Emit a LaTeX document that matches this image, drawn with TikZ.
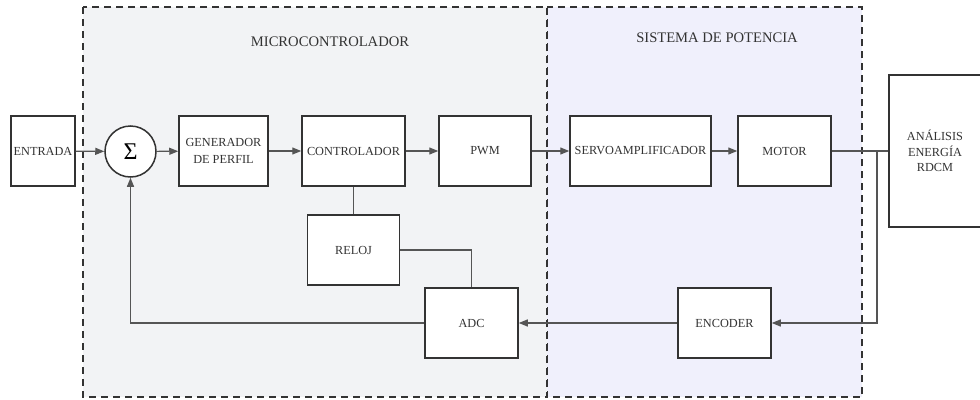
\documentclass[tikz,border=0pt]{standalone}
\usepackage{fontspec}
\setmainfont{Liberation Serif}
\usetikzlibrary{arrows.meta}
\definecolor{microfill}{HTML}{F2F3F5}
\definecolor{potfill}{HTML}{F0F0FC}
\definecolor{edgegray}{HTML}{333333}
\definecolor{linegray}{HTML}{555555}
\begin{document}
\begin{tikzpicture}[x=1pt,y=-1pt,
  bloque/.style={draw=edgegray, line width=1.5pt, fill=white, minimum width=#1,
    minimum height=70pt, inner sep=0pt, text=edgegray, align=center,
    font=\fontsize{12.3}{16.5}\selectfont},
  suma/.style={circle, draw=edgegray, line width=1.5pt, fill=white,
    minimum size=51pt, inner sep=0pt, text=black, font=\fontsize{24}{24}\selectfont},
  grupo/.style={draw=edgegray, line width=1.5pt, dash pattern=on 7pt off 5pt},
  titulo/.style={text=edgegray, font=\fontsize{14.6}{17}\selectfont},
  linea/.style={draw=linegray, line width=1.2pt},
  flecha/.style={linea, -{Triangle[length=9pt,width=7pt]}}]
\useasboundingbox (0,0) rectangle (980,399);

\draw[grupo, fill=potfill] (547,7) rectangle (862,397);
\draw[grupo, fill=microfill] (83,7) rectangle (547,397);
\node[titulo] (tmicro) at (330,42) {MICROCONTROLADOR};
\node[titulo] (tpot) at (717,38) {SISTEMA DE POTENCIA};

\node[bloque=64pt] (entrada) at (43,151) {ENTRADA};
\node[suma] (sum) at (130.5,151.5) {Σ};
\node[bloque=89pt] (perfil) at (223.5,151) {GENERADOR\\DE PERFIL};
\node[bloque=103pt] (control) at (353.5,151) {CONTROLADOR};
\node[bloque=92pt] (pwm) at (485,151) {PWM};
\node[bloque=141pt] (servo) at (640.5,151) {SERVOAMPLIFICADOR};
\node[bloque=93pt] (motor) at (784.5,151) {MOTOR};
\node[bloque=92pt, minimum height=152pt, font=\fontsize{12.3}{15.5}\selectfont]
  (analisis) at (935,151) {ANÁLISIS\\ENERGÍA\\RDCM};
\node[bloque=92pt] (reloj) at (353.5,250) {RELOJ};
\node[bloque=93pt] (adc) at (471.5,323) {ADC};
\node[bloque=93pt] (encoder) at (724.5,323) {ENCODER};
\coordinate (rama) at (877,151);

\draw[flecha] (entrada) -- (sum);
\draw[flecha] (sum) -- (perfil);
\draw[flecha] (perfil) -- (control);
\draw[flecha] (control) -- (pwm);
\draw[flecha] (pwm) -- (servo);
\draw[flecha] (servo) -- (motor);
\draw[linea] (motor) -- (analisis);
\draw[flecha] (rama) |- (encoder);
\draw[flecha] (encoder) -- (adc);
\draw[flecha] (adc.west) -| (sum.south);
\draw[linea] (control.south) -- (reloj.north);
\draw[linea] (reloj.east) -| (adc.north);
\end{tikzpicture}
\end{document}
